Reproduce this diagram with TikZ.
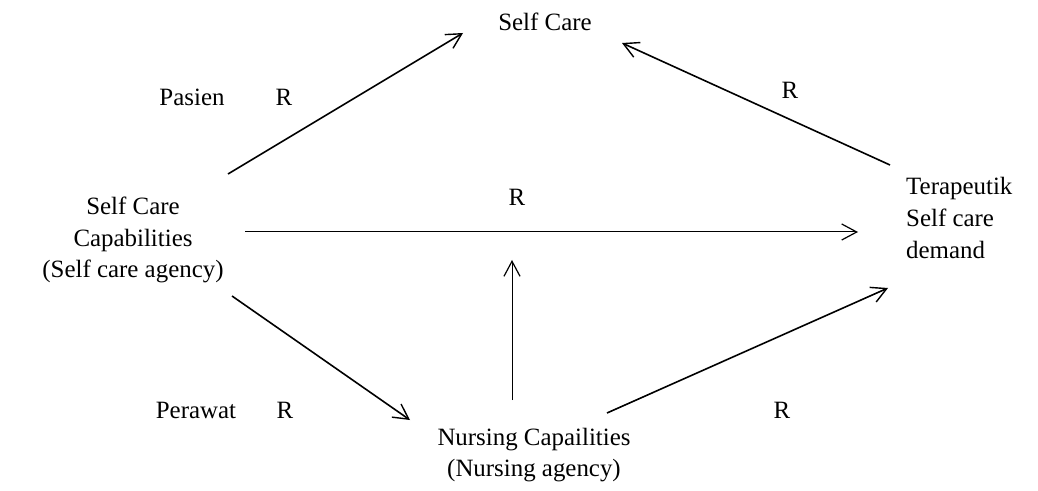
\documentclass[tikz,border=0pt]{standalone}
\usepackage{fontspec}
\setmainfont{Liberation Serif}
\usetikzlibrary{arrows.meta}
\begin{document}
\begin{tikzpicture}[x=1bp,y=-1bp,
  every node/.style={font=\fontsize{25}{32}\selectfont, inner sep=0pt},
  arr/.style={line width=1.6bp, -{Straight Barb[length=15bp,width=16bp,line width=1.4bp]}},
  thinarr/.style={line width=1bp, -{Straight Barb[length=15bp,width=16bp,line width=1.2bp]}}]
  \useasboundingbox (0,0) rectangle (1038,491);

  % concepts
  \node (sc)  at (545,22) {Self Care};
  \node[align=center] (scc) at (133,240) {Self Care\\Capabilities\\(Self care agency)};
  \node[align=left, anchor=west] (tsd) at (906,218) {Terapeutik\\Self care\\demand};
  \node[align=center] (nc) at (534,455) {Nursing Capailities\\(Nursing agency)};

  % labels
  \node (lp)  at (192,97)  {Pasien};
  \node (r1)  at (284,97)  {R};
  \node (r2)  at (790,90)  {R};
  \node (r3)  at (517,197) {R};
  \node (lw)  at (196,410) {Perawat};
  \node (r4)  at (285,410) {R};
  \node (r5)  at (782,410) {R};

  % connector end points
  \coordinate (a1s) at (228,174);
  \coordinate (a1e) at (463,33);
  \coordinate (a2s) at (890,165);
  \coordinate (a2e) at (622,43);
  \coordinate (a3s) at (245,232);
  \coordinate (a3e) at (858,232);
  \coordinate (a4s) at (232,296);
  \coordinate (a4e) at (410,420);
  \coordinate (a5s) at (607,413);
  \coordinate (a5e) at (888,288);
  \coordinate (a6s) at (512,400);
  \coordinate (a6e) at (512,260);

  \draw[arr] (a1s) -- (a1e);
  \draw[arr] (a2s) -- (a2e);
  \draw[thinarr] (a3s) -- (a3e);
  \draw[arr] (a4s) -- (a4e);
  \draw[arr] (a5s) -- (a5e);
  \draw[thinarr] (a6s) -- (a6e);
\end{tikzpicture}
\end{document}
